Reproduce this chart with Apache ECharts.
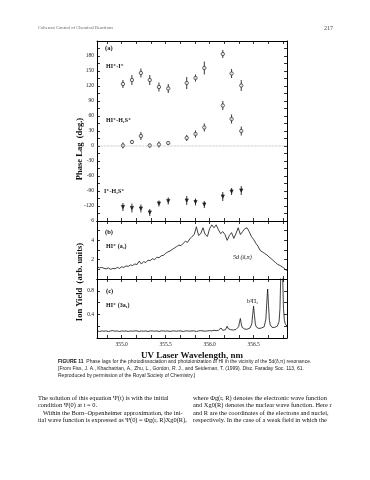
<!DOCTYPE html>
<html><head><meta charset="utf-8">
<script src="https://cdn.jsdelivr.net/npm/echarts@6/dist/echarts.min.js"></script>
<style>html,body{margin:0;padding:0;background:#fff}#c{width:370px;height:480px}</style>
</head><body><div id="c"></div>
<script>
// ---- data ----
var lagX   = [355.015, 355.117, 355.219, 355.32, 355.424, 355.53, 355.74, 355.84, 355.94, 356.15, 356.25, 356.36];
var lagHII = [124, 132, 146, 132, 118, 115, 126, 136, 156, 184, 145, 121];
var errHII = [8, 10, 9, 10, 9, 9, 12, 7, 13, 8, 9, 11];
var lagHIS = [1, 8, 20, 1, 3, 6, 16, 24, 37, 81, 54, 30];
var errHIS = [6, 4, 8, 4, 6, 4, 6, 7, 8, 9, 9, 9];
var lagIS  = [-122, -124, -125, -133, -115, -110, -109, -112, -117, -101, -91, -89];
var errIS  = [8, 9, 8, 7, 6, 7, 9, 7, 7, 9, 7, 9];

var specBx = [354.725,354.75,354.775,354.8,354.825,354.85,354.875,354.9,354.925,354.95,354.975,355,355.025,355.05,355.075,355.1,355.125,355.15,355.175,355.2,355.225,355.25,355.275,355.3,355.325,355.35,355.375,355.4,355.425,355.45,355.475,355.5,355.525,355.55,355.575,355.6,355.625,355.65,355.675,355.7,355.725,355.75,355.775,355.8,355.825,355.85,355.875,355.9,355.925,355.95,355.975,356,356.025,356.05,356.075,356.1,356.125,356.15,356.175,356.2,356.225,356.25,356.275,356.3,356.325,356.35,356.375,356.4,356.425,356.45,356.475,356.5,356.525,356.55,356.575,356.6,356.625,356.65,356.675,356.7,356.725,356.75,356.775,356.8,356.825,356.85,356.875];
var specBy = [1.25,1.15,1.2,1.1,1.05,1.15,1.0,1.1,1.05,1.2,1.1,1.25,1.2,1.35,1.3,1.45,1.4,1.55,1.5,1.85,1.55,1.8,1.7,1.95,1.9,2.1,2.0,2.25,2.2,2.4,2.45,2.65,2.8,2.9,3.05,3.2,3.35,3.5,3.45,3.7,3.9,3.8,4.15,4.4,4.6,5.4,4.5,4.7,5.3,4.6,4.4,5.2,5.6,5.3,5.6,5.1,4.7,4.9,4.6,4.0,4.5,4.8,4.2,4.7,5.3,4.6,4.9,5.2,5.3,4.9,4.4,4.1,3.7,3.4,2.95,2.8,2.65,2.5,2.3,2.1,1.9,1.7,1.5,1.4,1.25,1.1,0.85];

var specCx = [354.725,354.75,354.775,354.8,354.825,354.85,354.875,354.9,354.925,354.95,354.975,355,355.025,355.05,355.075,355.1,355.125,355.15,355.175,355.2,355.225,355.25,355.275,355.3,355.325,355.35,355.375,355.4,355.425,355.45,355.475,355.5,355.525,355.55,355.575,355.6,355.625,355.65,355.675,355.7,355.725,355.75,355.775,355.8,355.825,355.85,355.875,355.9,355.925,355.95,355.975,356,356.025,356.05,356.075,356.1,
  356.11,356.12,356.13,356.14,356.15,356.16,356.17,356.18,356.19,356.2,356.21,356.22,356.23,356.24,356.25,356.26,356.27,356.28,356.29,356.3,356.31,356.32,356.33,356.34,356.35,356.36,356.37,356.38,356.39,356.4,356.41,356.42,356.43,356.44,356.45,356.46,356.47,356.48,356.49,356.5,356.51,356.52,356.53,356.54,356.55,356.56,356.57,356.58,356.59,356.6,356.61,356.62,356.63,356.64,356.65,356.66,356.67,356.68,356.69,356.7,356.71,356.72,356.73,356.74,356.75,356.76,356.77,356.78,356.79,356.8,356.81,356.82,356.83,356.84,356.85,356.86,356.87,356.88];
var specCy = [0.12,0.11,0.12,0.115,0.12,0.11,0.12,0.125,0.115,0.12,0.11,0.12,0.115,0.12,0.11,0.12,0.115,0.12,0.12,0.11,0.12,0.115,0.12,0.11,0.12,0.12,0.115,0.12,0.11,0.12,0.12,0.115,0.12,0.11,0.12,0.12,0.115,0.12,0.12,0.11,0.12,0.12,0.115,0.12,0.12,0.11,0.12,0.125,0.12,0.115,0.12,0.125,0.12,0.13,0.125,0.13,
  0.14,0.15,0.17,0.14,0.13,0.135,0.13,0.14,0.16,0.2,0.16,0.14,0.135,0.14,0.13,0.14,0.135,0.14,0.14,0.145,0.15,0.16,0.19,0.27,0.33,0.24,0.18,0.16,0.15,0.15,0.145,0.15,0.15,0.155,0.16,0.17,0.19,0.24,0.4,0.54,0.38,0.24,0.19,0.17,0.165,0.16,0.165,0.165,0.17,0.175,0.18,0.19,0.22,0.32,0.6,0.83,0.55,0.3,0.22,0.19,0.18,0.175,0.18,0.18,0.185,0.19,0.2,0.22,0.28,0.5,1.1,1.3,1.1,0.5,0.3,0.24,0.21,0.2];

var xLabelVals = [355.0, 355.5, 356.0, 356.5];
var xTickVals = [354.8333,355,355.1667,355.3333,355.5,355.6667,355.8333,356,356.1667,356.3333,356.5,356.6667,356.8333];
var yLabelA = [-120,-90,-60,-30,0,30,60,90,120,150,180];
var yLabelB = [2,4,6];
var yLabelC = [0.4,0.8];

// ---- chart ----
var SERIF = '"Liberation Serif","DejaVu Serif",serif';
var SANS = '"Liberation Sans","DejaVu Sans",sans-serif';
var chart = echarts.init(document.getElementById('c'), null, {renderer:'canvas'});

function xa(g, pos, show){
  return {type:'value', gridIndex:g, position:pos, min:354.72, max:356.88,
    axisLine:{show:true, onZero:false, lineStyle:{color:'#000', width:1}},
    axisTick:{show:true, inside:true, length:3, customValues:xTickVals, lineStyle:{color:'#000', width:0.8}},
    axisLabel:{show:show, customValues:xLabelVals, formatter:function(v){return v.toFixed(1);}, fontFamily:SERIF, fontSize:5.5, color:'#222', margin:4},
    splitLine:{show:false}};
}
function ya(g, pos, show, mn, mx, labs, ticks, fmt){
  return {type:'value', gridIndex:g, position:pos, min:mn, max:mx,
    axisLine:{show:true, onZero:false, lineStyle:{color:'#000', width:1}},
    axisTick:{show:true, inside:true, length:3, customValues:ticks, lineStyle:{color:'#000', width:0.8}},
    axisLabel:{show:show, customValues:labs, formatter:fmt, fontFamily:SERIF, fontSize:5.5, color:'#222', margin:3},
    splitLine:{show:false}};
}
var tA=[], tB=[0,1,2,3,4,5,6], tC=[0.2,0.4,0.6,0.8];
for (var v=-150; v<=210; v+=15) tA.push(v);

function errSeries(vals, errs, sym, filled, rot){
  return [{
    type:'custom', xAxisIndex:0, yAxisIndex:0, silent:true,
    data: lagX.map(function(x,i){return [x, vals[i], errs[i]];}),
    renderItem:function(params, api){
      var x=api.value(0), y=api.value(1), e=api.value(2);
      var p1=api.coord([x,y+e]), p2=api.coord([x,y-e]);
      return {type:'line', shape:{x1:p1[0],y1:p1[1],x2:p2[0],y2:p2[1]}, style:{stroke:'#222', lineWidth:0.9}};
    }
  },{
    type:'scatter', xAxisIndex:0, yAxisIndex:0, silent:true, symbol:sym, symbolSize:filled?3.2:3.4, symbolRotate:rot||0,
    itemStyle:{color:filled?'#111':'#fff', borderColor:'#111', borderWidth:0.8},
    data: lagX.map(function(x,i){return [x, vals[i]];})
  }];
}

var series = [
  {type:'line', xAxisIndex:0, yAxisIndex:0, symbol:'none', silent:true, data:[[354.72,0],[356.88,0]], lineStyle:{color:'#999', width:0.7, type:'dotted'}}
].concat(errSeries(lagHII, errHII, 'circle', false))
 .concat(errSeries(lagHIS, errHIS, 'circle', false))
 .concat(errSeries(lagIS, errIS, 'triangle', true, 180))
 .concat([
  {type:'line', xAxisIndex:2, yAxisIndex:2, symbol:'none', silent:true, lineStyle:{color:'#111', width:0.8},
   data: specBx.map(function(x,i){return [x, specBy[i]];})},
  {type:'line', xAxisIndex:4, yAxisIndex:4, symbol:'none', silent:true, clip:true, lineStyle:{color:'#111', width:0.8},
   data: specCx.map(function(x,i){return [x, specCy[i]];})}
 ]);

function T(x, y, text, font, extra){
  return {type:'text', x:x, y:y, silent:true, style:Object.assign({text:text, font:font, fill:'#111', textAlign:'left', textVerticalAlign:'middle'}, extra||{})};
}
var fsTxt = '6.4px ' + SERIF;
var graphics = [
  T(38, 28, 'Coherent Control of Chemical Reactions', '4.6px ' + SERIF, {fill:'#666'}),
  T(324, 28, '217', '6px ' + SERIF, {fill:'#444'}),
  T(105, 48, '(a)', 'bold 6.5px ' + SERIF),
  T(106, 66, 'HI⁺-I⁺', 'bold 6px ' + SERIF),
  T(106, 120, 'HI⁺-H₂S⁺', 'bold 6px ' + SERIF),
  T(104, 191, 'I⁺-H₂S⁺', 'bold 6px ' + SERIF),
  T(105, 232, '(b)', 'bold 6.5px ' + SERIF),
  T(106, 246, 'HI⁺ (a₃)', 'bold 6px ' + SERIF),
  T(233, 257, '5d (δ,π)', 'italic 6px ' + SERIF),
  T(106, 291, '(c)', 'bold 6.5px ' + SERIF),
  T(106, 305, 'HI⁺ (3a₁)', 'bold 6px ' + SERIF),
  T(247, 301, 'b³Π₂', '6px ' + SERIF),
  {type:'text', x:80, y:149, rotation:Math.PI/2, silent:true, style:{text:'Phase Lag  (deg.)', font:'bold 8.5px ' + SERIF, fill:'#111', textAlign:'center', textVerticalAlign:'middle'}},
  {type:'text', x:80, y:282, rotation:Math.PI/2, silent:true, style:{text:'Ion Yield  (arb. units)', font:'bold 8.5px ' + SERIF, fill:'#111', textAlign:'center', textVerticalAlign:'middle'}},
  T(192, 356, 'UV Laser Wavelength, nm', 'bold 9px ' + SERIF, {textAlign:'center'}),
  {type:'text', x:58, y:362, silent:true, style:{text:'{b|FIGURE 11}  Phase lags for the photodissociation and photoionization of HI in the vicinity of the 5d(δ,π) resonance.', font:'5px ' + SANS, fill:'#222', textVerticalAlign:'middle', rich:{b:{font:'bold 5px ' + SANS, fill:'#111'}}}},
  T(58, 369, '[From Fiss, J. A., Khachatrian, A., Zhu, L., Gordon, R. J., and Seideman, T. (1999). Disc. Faraday Soc. 113, 61.', '5px ' + SANS, {fill:'#222'}),
  T(58, 376, 'Reproduced by permission of the Royal Society of Chemistry.]', '5px ' + SANS, {fill:'#222'}),
  T(38, 398, 'The solution of this equation Ψ(t) is with the initial', fsTxt),
  T(38, 405, 'condition Ψ(0) at t = 0.', fsTxt),
  T(43, 413, 'Within the Born–Oppenheimer approximation, the ini-', fsTxt),
  T(38, 420, 'tial wave function is expressed as Ψ(0) = Φg(r, R)Xg0(R),', fsTxt),
  T(193, 398, 'where Φg(r, R) denotes the electronic wave function', fsTxt),
  T(193, 405, 'and Xg0(R) denotes the nuclear wave function. Here r', fsTxt),
  T(193, 413, 'and R are the coordinates of the electrons and nuclei,', fsTxt),
  T(193, 420, 'respectively. In the case of a weak field in which the', fsTxt)
];

chart.setOption({
  backgroundColor:'#fff',
  animation:false,
  grid:[
    {left:97, width:190, top:41, height:180},
    {left:97, width:190, top:221, height:58},
    {left:97, width:190, top:279, height:59}
  ],
  xAxis:[ xa(0,'bottom',false), xa(0,'top',false), xa(1,'bottom',false), xa(1,'top',false), xa(2,'bottom',true), xa(2,'top',false) ],
  yAxis:[
    ya(0,'left',true,-150,210,yLabelA,tA,function(v){return String(v);}), ya(0,'right',false,-150,210,yLabelA,tA),
    ya(1,'left',true,0,6,yLabelB,tB,function(v){return String(v);}), ya(1,'right',false,0,6,yLabelB,tB),
    ya(2,'left',true,0,1,yLabelC,tC,function(v){return v.toFixed(1);}), ya(2,'right',false,0,1,yLabelC,tC)
  ],
  series:series,
  graphic:graphics
});
</script></body></html>
